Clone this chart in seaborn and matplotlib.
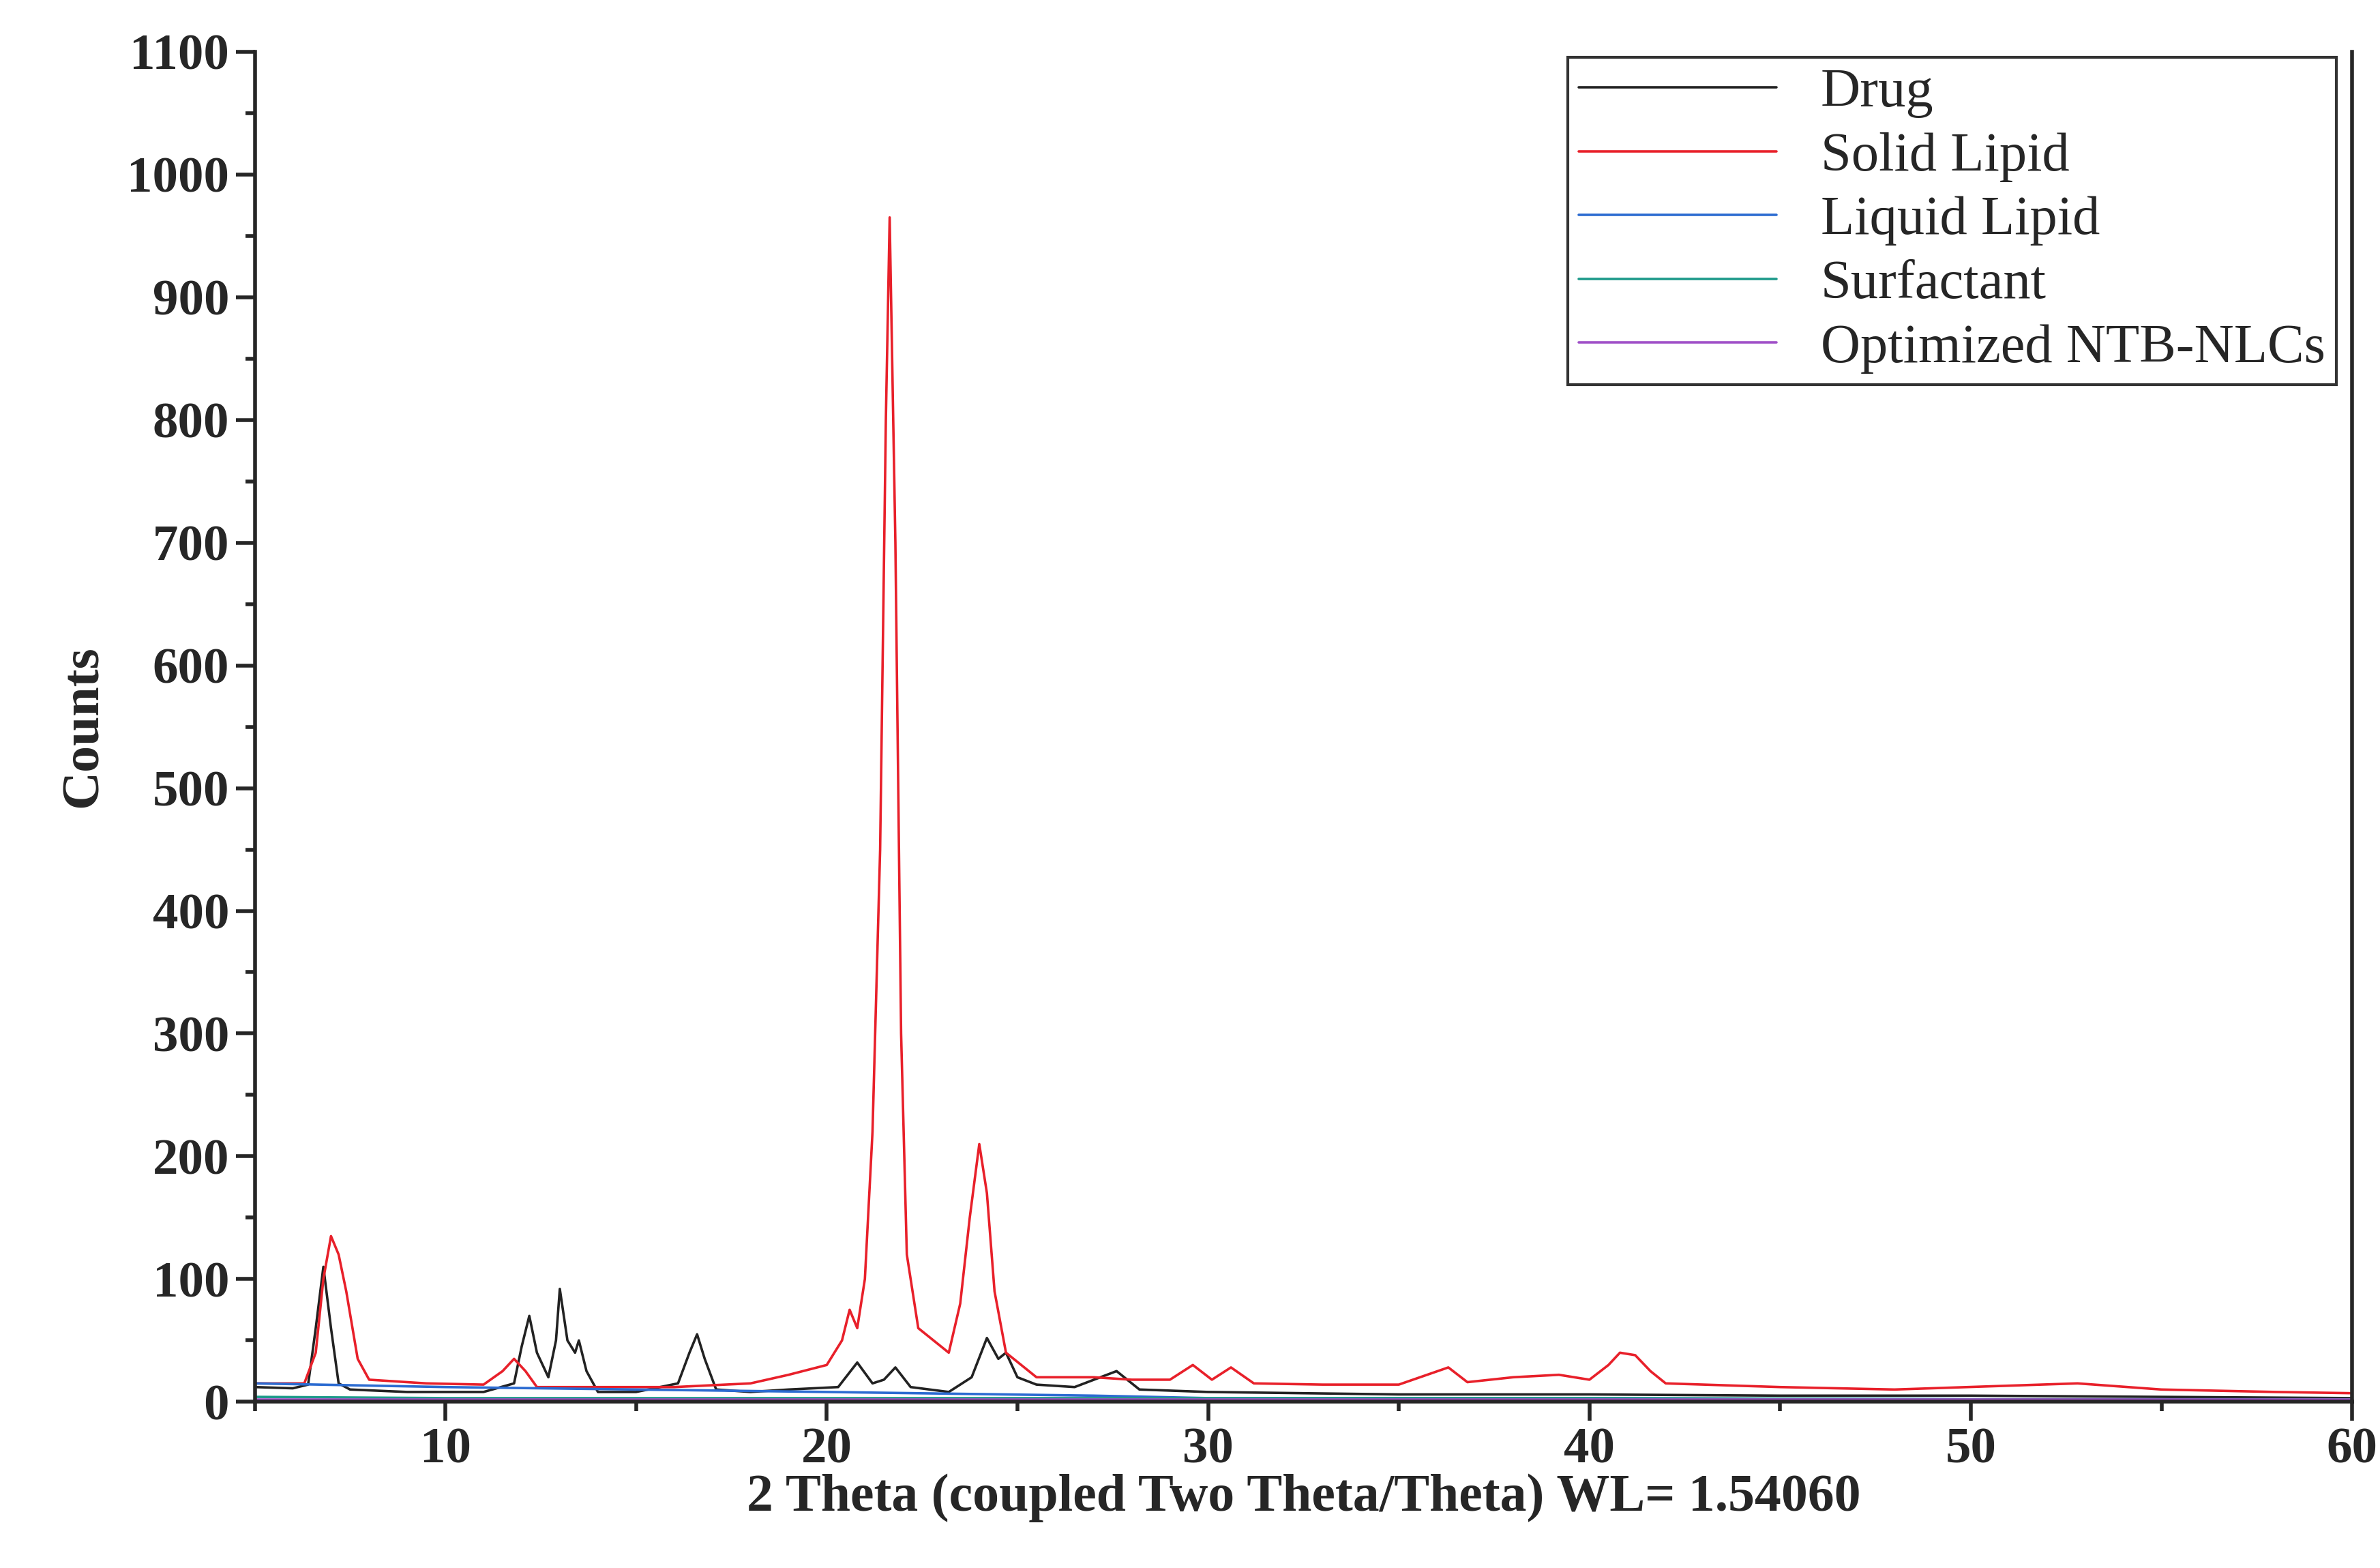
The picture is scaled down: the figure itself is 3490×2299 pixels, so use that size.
import numpy as np
import pandas as pd
import seaborn as sns
import matplotlib.pyplot as plt

# (2theta, counts)
drug_x = [5, 6.0, 6.4, 6.6, 6.8, 7.0, 7.2, 7.5, 9, 11, 11.8, 12.0, 12.2, 12.4, 12.7, 12.9, 13.0, 13.2, 13.4, 13.5,
          13.7, 14.0, 15, 16.1, 16.4, 16.6, 16.8, 17.1, 18, 19, 20.3, 20.8, 21.2, 21.5, 21.8, 22.2, 23.2, 23.8,
          24.2, 24.5, 24.7, 25.0, 25.5, 26.5, 27.6, 28.2, 30, 35, 40, 45, 50, 55, 60]
drug_y = [12, 11, 14, 60, 110, 60, 15, 10, 8, 8, 15, 45, 70, 40, 20, 50, 92, 50, 40, 50,
          25, 8, 8, 15, 40, 55, 35, 10, 8, 10, 12, 32, 15, 18, 28, 12, 8, 20,
          52, 35, 40, 20, 14, 12, 25, 10, 8, 6, 6, 5, 5, 4, 3]
lipid_x = [5, 6.3, 6.6, 6.8, 7.0, 7.2, 7.4, 7.7, 8.0, 9.5, 11, 11.5, 11.8, 12.1, 12.4, 13, 16, 18, 19, 20.0, 20.4,
           20.6, 20.8, 21.0, 21.2, 21.4, 21.55, 21.65, 21.8, 21.95, 22.1, 22.4, 22.8, 23.2, 23.5, 23.75, 24.0, 24.2,
           24.4, 24.7, 25.5, 27, 28, 29.0, 29.6, 30.1, 30.6, 31.2, 33, 35, 36.3, 36.8, 38, 39.2, 40.0, 40.5,
           40.8, 41.2, 41.6, 42, 45, 48, 52.8, 55, 58, 60]
lipid_y = [15, 15, 40, 100, 135, 120, 90, 35, 18, 15, 14, 25, 35, 25, 12, 12, 12, 15, 22, 30, 50,
           75, 60, 100, 220, 450, 800, 965, 700, 300, 120, 60, 50, 40, 80, 150, 210, 170,
           90, 40, 20, 20, 18, 18, 30, 18, 28, 15, 14, 14, 28, 16, 20, 22, 18, 30,
           40, 38, 25, 15, 12, 10, 15, 10, 8, 7]
liquid_x = [5, 10, 15, 20, 27, 30, 40, 50, 60]
liquid_y = [15, 12, 10, 8, 5, 3, 3, 2, 2]
surf_x = [5, 10, 20, 30, 40, 50, 60]
surf_y = [4, 3, 3, 3, 3, 2, 2]
nlc_x = [5, 20, 40, 60]
nlc_y = [2, 2, 2, 2]

series = [("Drug", drug_x, drug_y, "#222222"),
          ("Solid Lipid", lipid_x, lipid_y, "#e8202a"),
          ("Liquid Lipid", liquid_x, liquid_y, "#2b6bd1"),
          ("Surfactant", surf_x, surf_y, "#1e9a8a"),
          ("Optimized NTB-NLCs", nlc_x, nlc_y, "#a050c8")]

sns.set_style("ticks")
plt.rcParams['font.family'] = ['Liberation Serif', 'DejaVu Serif']

fig = plt.figure(figsize=(17.455, 11.495), dpi=200)
ax = fig.add_axes([0.107, 0.106, 0.881, 0.861])
for name, xs, ys, c in series:
    df = pd.DataFrame({"x": xs, "y": ys})
    sns.lineplot(data=df, x="x", y="y", ax=ax, color=c, lw=1.3, label=name)

ax.set_xlim(5, 60)
ax.set_ylim(0, 1100)
ax.set_xticks([10, 20, 30, 40, 50, 60])
ax.set_xticks(np.arange(5, 61, 5), minor=True)
ax.set_yticks(np.arange(0, 1101, 100))
ax.set_yticks(np.arange(0, 1101, 50), minor=True)
ax.tick_params(axis='both', which='major', direction='out', length=10, width=2, labelsize=27)
ax.tick_params(axis='both', which='minor', direction='out', length=5, width=2)
for lab in ax.get_xticklabels() + ax.get_yticklabels():
    lab.set_fontweight('bold')
ax.spines['top'].set_visible(False)
for s in ['left', 'bottom', 'right']:
    ax.spines[s].set_linewidth(2)
ax.set_xlabel("2 Theta (coupled Two Theta/Theta) WL= 1.54060", fontsize=28, fontweight='bold', labelpad=0)
ax.set_ylabel("Counts", fontsize=28, fontweight='bold', labelpad=10)
leg = ax.legend(loc='upper right', bbox_to_anchor=(0.995, 1.0), fontsize=29, frameon=True,
                fancybox=False, handlelength=3.6, borderpad=0.2, labelspacing=0.25, handletextpad=0.8,
                borderaxespad=0.1, edgecolor='black')
leg.get_frame().set_linewidth(1.5)
fig.savefig("out.png", dpi=200)
